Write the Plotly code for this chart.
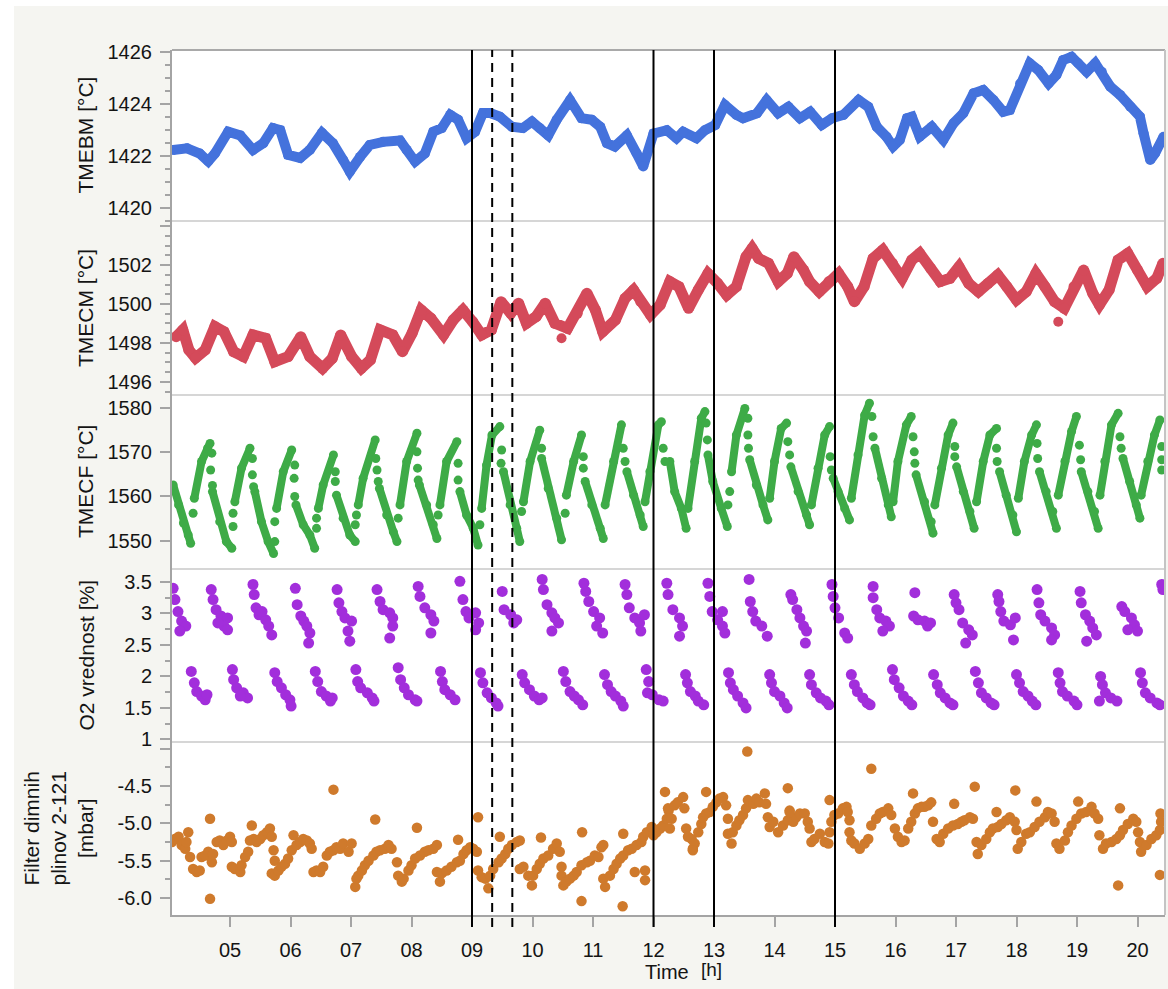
import plotly.graph_objects as go

# ---------------- data (time in decimal hours) ----------------
tmebm_t = [4.06, 4.29, 4.50, 4.64, 4.75, 4.97, 5.17, 5.38, 5.55, 5.71,
           5.83, 5.96, 6.16, 6.32, 6.52, 6.70, 6.87, 6.98, 7.15, 7.31,
           7.53, 7.81, 7.92, 8.06, 8.22, 8.36, 8.50, 8.64, 8.77, 8.91,
           9.05, 9.18, 9.30, 9.46, 9.66, 9.84, 9.99, 10.12, 10.26, 10.40,
           10.62, 10.81, 10.98, 11.12, 11.23, 11.36, 11.56, 11.72, 11.83, 12.00,
           12.22, 12.38, 12.49, 12.71, 12.85, 13.02, 13.18, 13.37, 13.48, 13.71,
           13.87, 14.06, 14.23, 14.42, 14.59, 14.78, 14.95, 15.14, 15.39, 15.55,
           15.69, 15.85, 15.96, 16.07, 16.19, 16.27, 16.40, 16.60, 16.79, 16.96,
           17.12, 17.29, 17.45, 17.62, 17.78, 17.89, 18.06, 18.22, 18.36, 18.53,
           18.66, 18.77, 18.91, 19.02, 19.16, 19.30, 19.41, 19.55, 19.71, 19.88,
           20.04, 20.10, 20.21, 20.29, 20.43]
tmebm_v = [1422.24, 1422.30, 1422.10, 1421.80, 1422.10, 1422.94, 1422.80, 1422.24, 1422.50, 1423.08,
           1423.00, 1422.05, 1421.93, 1422.24, 1422.90, 1422.50, 1421.85, 1421.40, 1421.97, 1422.43,
           1422.55, 1422.60, 1422.24, 1421.79, 1422.10, 1422.94, 1423.08, 1423.59, 1423.40, 1422.69,
           1422.94, 1423.66, 1423.66, 1423.52, 1423.13, 1423.08, 1423.33, 1423.08, 1422.80, 1423.40,
           1424.16, 1423.46, 1423.40, 1423.13, 1422.50, 1422.37, 1422.80, 1422.11, 1421.60, 1422.87,
           1423.00, 1422.69, 1422.94, 1422.69, 1423.00, 1423.20, 1423.97, 1423.59, 1423.46, 1423.65,
           1424.16, 1423.65, 1423.90, 1423.46, 1423.71, 1423.20, 1423.46, 1423.59, 1424.16, 1423.90,
           1423.13, 1422.75, 1422.37, 1422.62, 1423.46, 1423.52, 1422.75, 1423.13, 1422.62, 1423.27,
           1423.65, 1424.42, 1424.55, 1424.16, 1423.71, 1423.78, 1424.80, 1425.58, 1425.32, 1424.80,
           1425.13, 1425.70, 1425.83, 1425.58, 1425.25, 1425.58, 1425.25, 1424.68, 1424.36, 1423.90,
           1423.52, 1422.88, 1421.85, 1422.11, 1422.75]

tmecm_t = [4.11, 4.22, 4.32, 4.43, 4.59, 4.75, 4.90, 5.06, 5.22, 5.38,
           5.59, 5.74, 5.96, 6.17, 6.32, 6.53, 6.69, 6.83, 7.01, 7.17,
           7.32, 7.48, 7.69, 7.85, 8.01, 8.16, 8.32, 8.53, 8.69, 8.85,
           9.01, 9.16, 9.32, 9.48, 9.64, 9.77, 9.90, 10.06, 10.21, 10.37,
           10.58, 10.74, 10.90, 11.04, 11.16, 11.37, 11.53, 11.67, 11.79, 11.95,
           12.11, 12.27, 12.42, 12.58, 12.74, 12.90, 13.06, 13.21, 13.37, 13.53,
           13.63, 13.74, 13.90, 14.06, 14.21, 14.32, 14.48, 14.58, 14.74, 14.90,
           15.06, 15.21, 15.32, 15.48, 15.63, 15.79, 15.95, 16.11, 16.27, 16.40,
           16.58, 16.74, 16.90, 17.05, 17.21, 17.37, 17.53, 17.69, 17.84, 18.00,
           18.16, 18.32, 18.47, 18.63, 18.79, 18.95, 19.11, 19.26, 19.37, 19.53,
           19.68, 19.84, 20.00, 20.16, 20.32, 20.42]
tmecm_v = [1498.32, 1498.67, 1497.64, 1497.23, 1497.64, 1498.84, 1498.58, 1497.55, 1497.30, 1498.41,
           1498.24, 1497.04, 1497.30, 1498.32, 1497.30, 1496.70, 1497.21, 1498.41, 1497.30, 1496.70,
           1497.13, 1498.67, 1498.41, 1497.55, 1498.50, 1499.69, 1499.27, 1498.41, 1499.18, 1499.69,
           1499.09, 1498.41, 1498.67, 1500.12, 1499.52, 1500.04, 1499.01, 1499.35, 1500.04, 1499.01,
           1498.75, 1499.52, 1500.55, 1499.69, 1498.58, 1499.18, 1500.29, 1500.72, 1500.12, 1499.44,
           1499.95, 1501.15, 1500.89, 1499.78, 1500.72, 1501.57, 1501.06, 1500.46, 1500.89, 1502.43,
           1502.86, 1502.34, 1502.09, 1501.15, 1501.57, 1502.43, 1501.74, 1501.15, 1500.63, 1501.15,
           1501.57, 1500.89, 1500.12, 1500.89, 1502.34, 1502.77, 1502.09, 1501.32, 1502.26, 1502.60,
           1501.83, 1501.15, 1501.32, 1501.91, 1501.06, 1500.63, 1501.06, 1501.49, 1500.89, 1500.21,
           1500.63, 1501.57, 1500.89, 1500.12, 1499.78, 1500.89, 1501.74, 1500.55, 1499.95, 1500.72,
           1502.26, 1502.60, 1501.74, 1500.89, 1501.32, 1502.09]
tmecm_out_t = [10.48, 18.69]
tmecm_out_v = [1498.24, 1499.09]

# TMECF: continuous falling / rising runs (None separates runs)
tmecf_run_t = [4.06, 4.15, 4.23, 4.31, 4.35, None, 4.41, 4.53, 4.63, 4.67, None,
               4.71, 4.83, 4.94, 5.03, None, 5.08, 5.19, 5.33, None,
               5.41, 5.52, 5.63, 5.72, None, 5.77, 5.88, 6.02, None,
               6.09, 6.21, 6.32, 6.40, None, 6.46, 6.54, 6.71, None,
               6.76, 6.87, 6.98, 7.07, None, 7.12, 7.20, 7.40, None,
               7.47, 7.59, 7.70, 7.76, None, 7.81, 7.92, 8.09, None,
               8.13, 8.25, 8.36, 8.42, None, 8.47, 8.58, 8.75, None,
               8.80, 8.91, 9.02, 9.10, None, 9.16, 9.24, 9.33, 9.46, None,
               9.52, 9.63, 9.74, 9.79, None, 9.85, 9.96, 10.12, None,
               10.15, 10.26, 10.40, 10.48, None, 10.56, 10.68, 10.81, None,
               10.87, 10.98, 11.12, 11.17, None, 11.20, 11.34, 11.47, None,
               11.56, 11.67, 11.78, 11.83, None, 11.86, 11.94, 12.08, 12.13, None,
               12.27, 12.35, 12.46, 12.54, None, 12.57, 12.68, 12.79, 12.85, None,
               12.90, 12.98, 13.12, 13.22, None, 13.29, 13.37, 13.51, None,
               13.59, 13.70, 13.81, 13.89, None, 13.92, 14.00, 14.11, 14.20, None,
               14.27, 14.39, 14.53, 14.58, None, 14.61, 14.72, 14.83, 14.91, None,
               14.97, 15.05, 15.16, 15.24, None, 15.27, 15.38, 15.49, 15.57, None,
               15.66, 15.77, 15.88, 15.93, None, 15.96, 16.04, 16.18, 16.26, None,
               16.34, 16.48, 16.59, 16.62, None, 16.65, 16.76, 16.87, 16.95, None,
               17.01, 17.12, 17.23, 17.30, None, 17.34, 17.45, 17.56, 17.67, None,
               17.72, 17.83, 17.94, 18.00, None, 18.03, 18.13, 18.25, 18.33, None,
               18.38, 18.49, 18.60, 18.66, None, 18.69, 18.80, 18.91, 18.99, None,
               19.07, 19.18, 19.29, 19.35, None, 19.38, 19.46, 19.57, 19.68, None,
               19.76, 19.87, 19.98, 20.04, None, 20.06, 20.17, 20.28, 20.37]
tmecf_run_v = [1562.6, 1558.1, 1554.0, 1551.3, 1549.4, None, 1559.6, 1567.9, 1570.9, 1572.0, None,
               1561.1, 1554.3, 1549.8, 1548.3, None, 1558.8, 1566.4, 1570.9, None,
               1561.1, 1554.3, 1549.8, 1547.1, None, 1557.3, 1565.6, 1570.5, None,
               1558.1, 1553.6, 1551.3, 1548.3, None, 1557.3, 1562.6, 1569.4, None,
               1560.3, 1555.1, 1551.3, 1549.8, None, 1558.1, 1564.1, 1572.8, None,
               1561.8, 1555.8, 1552.0, 1549.8, None, 1558.1, 1567.9, 1574.3, None,
               1562.6, 1558.1, 1553.6, 1550.5, None, 1558.1, 1567.9, 1572.4, None,
               1561.1, 1555.8, 1552.8, 1549.0, None, 1557.3, 1567.1, 1573.9, 1575.8, None,
               1565.6, 1558.1, 1552.8, 1549.8, None, 1558.8, 1567.9, 1575.0, None,
               1568.6, 1561.8, 1555.1, 1550.2, None, 1560.3, 1567.9, 1573.9, None,
               1563.4, 1558.1, 1552.8, 1550.5, None, 1558.1, 1567.9, 1576.2, None,
               1565.6, 1560.3, 1555.8, 1553.2, None, 1558.8, 1565.6, 1576.2, 1576.9, None,
               1567.9, 1561.1, 1557.3, 1552.8, None, 1557.3, 1567.9, 1577.7, 1579.2, None,
               1569.4, 1563.4, 1557.3, 1553.2, None, 1565.6, 1573.9, 1579.9, None,
               1568.3, 1562.6, 1558.1, 1554.7, None, 1559.6, 1567.9, 1575.4, 1576.6, None,
               1566.7, 1561.1, 1555.8, 1553.6, None, 1558.1, 1566.4, 1573.9, 1575.8, None,
               1564.1, 1561.1, 1557.3, 1554.7, None, 1559.6, 1569.4, 1578.4, 1581.1, None,
               1570.9, 1564.1, 1558.1, 1555.4, None, 1558.8, 1567.9, 1576.2, 1578.1, None,
               1564.9, 1558.8, 1554.3, 1551.7, None, 1558.1, 1566.4, 1573.9, 1576.6, None,
               1566.7, 1561.1, 1556.6, 1552.8, None, 1558.8, 1567.9, 1573.9, 1575.4, None,
               1565.6, 1560.3, 1555.8, 1552.0, None, 1559.6, 1567.9, 1573.9, 1576.2, None,
               1565.6, 1561.1, 1556.6, 1552.8, None, 1560.3, 1567.9, 1574.7, 1578.1, None,
               1565.6, 1561.1, 1556.6, 1552.8, None, 1560.3, 1567.9, 1576.2, 1578.8, None,
               1568.6, 1563.4, 1558.1, 1555.1, None, 1560.3, 1567.9, 1573.9, 1577.3]
# TMECF: isolated samples at the reversals
tmecf_dot_t = [4.39, 4.70, 4.68, 4.71, 5.05, 5.05, 5.37, 5.37, 5.39, 5.74, 5.74,
               6.07, 6.06, 6.07, 6.43, 6.43, 6.74, 6.74, 7.07, 7.09, 7.41, 7.43, 7.45,
               7.78, 8.09, 8.10, 8.11, 8.44, 8.77, 8.77, 9.13, 9.49, 9.48, 9.82, 10.15,
               10.54, 10.84, 10.84, 11.50, 11.53, 12.16, 12.19, 12.87, 12.89, 13.23, 13.26,
               13.56, 13.56, 13.57, 14.22, 14.25, 14.92, 14.94, 15.61, 15.63, 16.29, 16.31,
               16.32, 16.98, 16.98, 17.67, 17.68, 18.34, 18.35, 19.04, 19.06, 19.71, 19.73,
               20.40, 20.40, 20.40]
tmecf_dot_v = [1556.2, 1569.8, 1566.0, 1562.5, 1553.2, 1556.2, 1568.6, 1564.9, 1562.2, 1549.8, 1554.3,
               1567.1, 1564.1, 1560.0, 1552.8, 1555.1, 1565.6, 1563.4, 1553.6, 1555.8, 1568.6, 1566.0, 1563.4,
               1555.1, 1570.1, 1566.4, 1563.7, 1555.8, 1567.5, 1563.7, 1553.6, 1570.5, 1567.5, 1556.6, 1570.9,
               1556.2, 1569.0, 1566.4, 1570.9, 1567.9, 1570.9, 1567.9, 1576.6, 1572.8, 1558.1, 1561.1,
               1577.7, 1573.9, 1570.9, 1572.4, 1569.4, 1569.0, 1566.0, 1578.1, 1573.5, 1573.5, 1570.1,
               1567.5, 1571.3, 1569.0, 1570.9, 1567.9, 1572.0, 1568.6, 1571.6, 1568.3, 1573.5, 1570.9,
               1571.3, 1568.3, 1566.0]

o2_t = [4.06, 4.09, 4.14, 4.20, 4.27, 4.17,
        4.69, 4.72, 4.77, 4.85, 4.96, 4.90, 4.80, 4.96,
        5.38, 5.40, 5.43, 5.48, 5.59, 5.64, 5.69, 5.53,
        6.08, 6.11, 6.17, 6.22, 6.27, 6.32, 6.30,
        6.77, 6.80, 6.85, 6.90, 7.01, 6.95, 6.98,
        7.43, 7.48, 7.53, 7.64, 7.69, 7.69, 7.64,
        8.11, 8.14, 8.22, 8.32, 8.37, 8.32,
        8.80, 8.85, 8.90, 8.95, 9.06, 9.11, 9.06,
        9.50, 9.53, 9.64, 9.74, 9.69,
        10.16, 10.18, 10.24, 10.32, 10.37, 10.43, 10.32,
        10.85, 10.88, 10.93, 11.01, 11.11, 11.06, 11.16,
        11.53, 11.56, 11.60, 11.69, 11.77, 11.85, 11.79,
        12.22, 12.24, 12.32, 12.43, 12.48, 12.43,
        12.90, 12.93, 12.97, 13.06, 13.14, 13.18, 13.14,
        13.58, 13.60, 13.64, 13.69, 13.79, 13.88,
        14.27, 14.30, 14.37, 14.42, 14.48, 14.53, 14.51,
        14.95, 14.97, 15.00, 15.06, 15.16, 15.21,
        15.63, 15.63, 15.69, 15.74, 15.84, 15.90, 15.79,
        16.32, 16.30, 16.37, 16.48, 16.53, 16.58,
        16.97, 17.00, 17.05, 17.11, 17.21, 17.27, 17.16,
        17.69, 17.71, 17.74, 17.79, 17.90, 17.98, 17.95,
        18.34, 18.37, 18.40, 18.47, 18.58, 18.63, 18.58,
        19.05, 19.07, 19.14, 19.21, 19.26, 19.32, 19.16,
        19.74, 19.79, 19.90, 19.95, 20.00, 19.84,
        20.40, 20.42,
        4.36, 4.41, 4.45, 4.53, 4.59, 4.62,
        5.04, 5.06, 5.11, 5.22, 5.29, 5.17,
        5.74, 5.78, 5.85, 5.92, 5.99, 6.01,
        6.41, 6.45, 6.51, 6.59, 6.66, 6.69,
        7.08, 7.11, 7.16, 7.27, 7.35, 7.38,
        7.78, 7.82, 7.88, 7.95, 8.06, 8.09,
        8.48, 8.51, 8.55, 8.64, 8.72,
        9.14, 9.18, 9.25, 9.32, 9.40, 9.43,
        9.83, 9.87, 9.95, 10.03, 10.11, 10.16,
        10.51, 10.55, 10.62, 10.69, 10.76, 10.83,
        11.19, 11.24, 11.30, 11.37, 11.46, 11.50,
        11.88, 11.92, 11.90, 11.98, 12.09, 12.16,
        12.53, 12.56, 12.61, 12.69, 12.74, 12.83,
        13.24, 13.27, 13.32, 13.39, 13.48, 13.53,
        13.92, 13.95, 14.00, 14.09, 14.16, 14.21,
        14.58, 14.61, 14.69, 14.76, 14.85, 14.90,
        15.27, 15.32, 15.37, 15.46, 15.53, 15.58,
        15.95, 15.98, 16.06, 16.13, 16.21, 16.27,
        16.63, 16.69, 16.74, 16.82, 16.90, 16.95,
        17.32, 17.37, 17.42, 17.50, 17.58, 17.63,
        18.00, 18.05, 18.11, 18.19, 18.26, 18.32,
        18.69, 18.72, 18.76, 18.84, 18.95, 19.00,
        19.39, 19.42, 19.47, 19.56, 19.66, 19.37,
        20.05, 20.08, 20.13, 20.21, 20.32, 20.37]
o2_v = [3.40, 3.22, 3.03, 2.88, 2.80, 2.72,
        3.38, 3.22, 3.06, 2.96, 2.93, 2.80, 2.85, 2.74,
        3.46, 3.30, 3.09, 2.98, 2.90, 2.80, 2.66, 3.03,
        3.40, 3.14, 2.96, 2.88, 2.80, 2.69, 2.53,
        3.38, 3.17, 3.03, 2.93, 2.88, 2.72, 2.56,
        3.38, 3.19, 3.06, 3.01, 2.93, 2.80, 2.61,
        3.43, 3.27, 3.09, 2.98, 2.88, 2.69,
        3.51, 3.22, 3.03, 2.93, 3.01, 2.85, 2.74,
        3.35, 3.06, 2.98, 2.90, 2.85,
        3.54, 3.38, 3.14, 3.01, 2.93, 2.85, 2.72,
        3.48, 3.35, 3.19, 3.03, 2.93, 2.80, 2.69,
        3.46, 3.30, 3.09, 2.93, 2.85, 2.98, 2.72,
        3.48, 3.30, 3.06, 2.93, 2.80, 2.64,
        3.48, 3.27, 3.03, 2.90, 2.80, 2.69, 3.03,
        3.54, 3.19, 3.03, 2.88, 2.80, 2.64,
        3.30, 3.22, 3.06, 2.93, 2.80, 2.72, 2.53,
        3.46, 3.27, 3.09, 2.93, 2.69, 2.61,
        3.43, 3.25, 3.06, 2.93, 2.88, 2.80, 2.72,
        3.33, 2.96, 2.90, 2.88, 2.80, 2.85,
        3.30, 3.17, 3.06, 2.85, 2.74, 2.66, 2.53,
        3.30, 3.19, 3.03, 2.88, 2.82, 2.93, 2.58,
        3.38, 3.17, 2.98, 2.88, 2.77, 2.66, 2.58,
        3.35, 3.17, 2.98, 2.88, 2.77, 2.66, 2.56,
        3.11, 3.03, 2.93, 2.82, 2.72, 2.74,
        3.46, 3.38,
        2.08, 1.90, 1.76, 1.69, 1.63, 1.71,
        2.11, 1.95, 1.82, 1.74, 1.66, 1.69,
        2.06, 1.92, 1.82, 1.71, 1.63, 1.53,
        2.08, 1.92, 1.76, 1.69, 1.61, 1.66,
        2.11, 1.92, 1.82, 1.74, 1.66, 1.61,
        2.14, 1.95, 1.82, 1.71, 1.63, 1.61,
        2.08, 1.92, 1.79, 1.71, 1.63,
        2.06, 1.90, 1.74, 1.66, 1.58, 1.53,
        2.03, 1.90, 1.79, 1.69, 1.63, 1.66,
        2.08, 1.92, 1.76, 1.69, 1.63, 1.55,
        2.03, 1.87, 1.76, 1.69, 1.61, 1.53,
        2.11, 1.92, 1.74, 1.71, 1.63, 1.61,
        2.03, 1.90, 1.76, 1.69, 1.61, 1.55,
        2.06, 1.90, 1.79, 1.69, 1.58, 1.50,
        2.03, 1.90, 1.76, 1.69, 1.58, 1.50,
        2.03, 1.87, 1.74, 1.66, 1.61, 1.55,
        2.03, 1.87, 1.76, 1.66, 1.58, 1.55,
        2.11, 1.95, 1.82, 1.69, 1.61, 1.55,
        2.03, 1.87, 1.74, 1.66, 1.58, 1.55,
        2.08, 1.90, 1.74, 1.66, 1.58, 1.55,
        2.03, 1.90, 1.76, 1.69, 1.61, 1.55,
        2.06, 1.90, 1.76, 1.69, 1.61, 1.55,
        2.00, 1.87, 1.74, 1.66, 1.61, 1.61,
        2.06, 1.90, 1.74, 1.66, 1.58, 1.55]

filt_t = [4.04, 4.09, 4.15, 4.20, 4.26, 4.31, 4.28, 4.34, 4.39, 4.45,
          4.50, 4.53, 4.59, 4.64, 4.70, 4.72, 4.78, 4.83, 4.89, 4.95, 5.00, 5.03,
          5.03, 5.08, 5.17, 5.19, 5.25, 5.30, 5.33, 5.39, 5.44, 5.50, 5.55, 5.61, 5.66, 5.69, 5.72, 5.74,
          5.69, 5.74, 5.80, 5.85, 5.91, 5.96, 6.02, 6.05, 6.10, 6.16, 6.21, 6.27, 6.32, 6.35,
          6.38, 6.43, 6.49, 6.54, 6.60, 6.65, 6.71, 6.76, 6.82, 6.87, 6.96, 7.01,
          7.07, 7.09, 7.12, 7.18, 7.23, 7.29, 7.37, 7.42, 7.48, 7.56, 7.62, 7.67,
          7.76, 7.78, 7.84, 7.87, 7.95, 8.00, 8.06, 8.14, 8.22, 8.28, 8.36, 8.42,
          8.42, 8.47, 8.50, 8.58, 8.66, 8.75, 8.80, 8.86, 8.91, 8.97, 9.02, 9.08,
          9.10, 9.16, 9.22, 9.27, 9.30, 9.35, 9.44, 9.49, 9.55, 9.60, 9.66, 9.74, 9.79,
          9.79, 9.85, 9.93, 9.99, 10.01, 10.07, 10.12, 10.18, 10.26, 10.34, 10.40, 10.45, 10.48,
          10.48, 10.51, 10.56, 10.62, 10.68, 10.73, 10.81, 10.90, 10.95, 11.03, 11.09, 11.14, 11.17,
          11.17, 11.20, 11.28, 11.34, 11.39, 11.45, 11.50, 11.58, 11.64, 11.72,
          11.80, 11.83, 11.89, 11.97, 12.00, 12.05, 12.11, 12.16, 12.22, 12.25,
          12.24, 12.30, 12.27, 12.35, 12.40, 12.49, 12.51, 12.54, 12.57, 12.63,
          12.65, 12.68, 12.74, 12.79, 12.82, 12.87, 12.93, 12.98, 13.04, 13.09, 13.15, 13.20, 13.23,
          13.23, 13.29, 13.31, 13.37, 13.42, 13.48, 13.53, 13.56, 13.65, 13.70,
          13.75, 13.84, 13.86, 13.89, 13.92, 13.98, 14.06, 14.14, 14.22, 14.25,
          14.31, 14.36, 14.42, 14.50, 14.55, 14.58, 14.61, 14.66, 14.75, 14.83,
          14.89, 14.91, 14.94, 14.99, 15.05, 15.13, 15.19, 15.21, 15.24,
          15.24, 15.27, 15.32, 15.41, 15.49, 15.55, 15.60, 15.68, 15.74, 15.79, 15.88, 15.93,
          15.99, 16.04, 16.10, 16.15, 16.21, 16.26, 16.32, 16.37, 16.43, 16.48, 16.54, 16.59,
          16.62, 16.68, 16.73, 16.79, 16.87, 16.95, 17.03, 17.09, 17.14, 17.23, 17.28,
          17.34, 17.36, 17.42, 17.50, 17.56, 17.61, 17.69, 17.75, 17.83, 17.89, 17.97, 18.00,
          18.02, 18.08, 18.16, 18.22, 18.30, 18.38, 18.47, 18.52, 18.58, 18.63,
          18.66, 18.71, 18.80, 18.85, 18.91, 18.99, 19.07, 19.15, 19.24, 19.29, 19.35,
          19.37, 19.43, 19.48, 19.57, 19.65, 19.71, 19.76, 19.84, 19.93, 19.98, 20.01,
          20.04, 20.06, 20.15, 20.23, 20.31, 20.37, 20.39, 20.38]
filt_v = [-5.25, -5.21, -5.18, -5.29, -5.34, -5.12, -5.25, -5.45, -5.61, -5.65,
          -5.63, -5.45, -5.43, -5.38, -5.52, -5.41, -5.25, -5.23, -5.29, -5.23, -5.18, -5.25,
          -5.58, -5.61, -5.65, -5.56, -5.45, -5.38, -5.23, -5.21, -5.25, -5.21, -5.16, -5.12, -5.07, -5.18, -5.36, -5.50,
          -5.67, -5.70, -5.63, -5.58, -5.54, -5.47, -5.36, -5.16, -5.29, -5.25, -5.21, -5.23, -5.27, -5.34,
          -5.65, -5.63, -5.65, -5.58, -5.43, -5.38, -5.36, -5.32, -5.34, -5.27, -5.38, -5.27,
          -5.85, -5.74, -5.70, -5.63, -5.56, -5.50, -5.43, -5.38, -5.36, -5.34, -5.29, -5.34,
          -5.52, -5.70, -5.78, -5.74, -5.63, -5.56, -5.47, -5.43, -5.38, -5.36, -5.34, -5.29,
          -5.65, -5.78, -5.67, -5.63, -5.58, -5.52, -5.50, -5.41, -5.36, -5.32, -5.34, -5.38,
          -5.63, -5.72, -5.74, -5.87, -5.70, -5.61, -5.52, -5.47, -5.41, -5.34, -5.29, -5.25, -5.23,
          -5.61, -5.58, -5.70, -5.83, -5.70, -5.61, -5.54, -5.47, -5.43, -5.34, -5.27, -5.38, -5.58,
          -5.70, -5.83, -5.78, -5.74, -5.70, -5.65, -5.56, -5.52, -5.50, -5.43, -5.45, -5.32, -5.29,
          -5.74, -5.85, -5.70, -5.61, -5.54, -5.47, -5.43, -5.36, -5.34, -5.29,
          -5.25, -5.18, -5.12, -5.05, -5.16, -5.12, -5.07, -5.03, -4.94, -4.83,
          -4.80, -4.94, -5.07, -4.76, -4.72, -4.65, -4.80, -5.07, -5.18, -5.21,
          -5.34, -5.27, -5.12, -5.01, -4.92, -4.87, -4.85, -4.78, -4.72, -4.67, -4.65, -4.76, -4.94,
          -5.14, -5.27, -5.12, -5.03, -4.96, -4.89, -4.80, -4.69, -4.74, -4.67,
          -4.72, -4.60, -4.74, -4.92, -5.05, -4.98, -5.12, -5.03, -4.96, -4.83,
          -4.98, -4.92, -4.87, -4.87, -4.98, -5.07, -5.25, -5.21, -5.14, -5.25,
          -5.27, -5.12, -4.98, -4.89, -4.87, -4.80, -4.78, -4.85, -4.96,
          -5.12, -5.23, -5.27, -5.34, -5.27, -5.21, -5.03, -4.94, -4.87, -4.85, -4.80, -4.89,
          -5.07, -5.18, -5.25, -5.23, -5.07, -4.98, -4.87, -4.80, -4.78, -4.78, -4.76, -4.72,
          -4.98, -5.21, -5.25, -5.14, -5.07, -5.03, -5.01, -4.98, -4.96, -4.92, -4.94,
          -5.25, -5.41, -5.29, -5.21, -5.12, -5.07, -5.05, -5.01, -4.96, -4.92, -4.98, -5.09,
          -5.34, -5.25, -5.14, -5.12, -5.05, -4.98, -4.92, -4.85, -4.87, -4.98,
          -5.27, -5.34, -5.23, -5.12, -5.03, -4.94, -4.87, -4.85, -4.78, -4.87, -4.94,
          -5.16, -5.34, -5.27, -5.25, -5.21, -5.16, -5.09, -5.01, -4.94, -4.98, -5.12,
          -5.25, -5.38, -5.29, -5.21, -5.16, -5.09, -4.98, -4.87]
filt_out_t = [4.67, 4.67, 5.36, 6.71, 7.40, 8.09, 8.77, 9.10, 9.46, 10.14,
              10.82, 10.81, 11.50, 11.49, 11.69, 11.86, 11.86, 12.19, 13.55, 15.60,
              16.29, 16.97, 17.31, 17.67, 17.98, 18.33, 19.02, 19.71, 19.68, 20.37,
              12.87, 14.22, 14.25, 14.91, 12.65]
filt_out_v = [-4.94, -6.01, -5.03, -4.55, -4.95, -5.06, -5.22, -4.92, -5.18, -5.19,
              -5.12, -6.04, -5.14, -6.11, -5.65, -5.63, -5.76, -4.58, -4.04, -4.27,
              -4.60, -4.74, -4.51, -4.85, -4.56, -4.71, -4.71, -4.80, -5.83, -5.69,
              -4.58, -4.53, -4.85, -4.69, -5.36]

hour_ticks = list(range(5, 21))
hour_labels = ["%02d" % h for h in hour_ticks]
ref_solid = [9, 12, 13, 15]
ref_dashed = [9 + 20 / 60, 9 + 40 / 60]

# ---------------- styling ----------------
FONT = "Liberation Sans, Arial, Helvetica, sans-serif"
TXT = "#141414"
AXC = "#a4a4a4"
BLUE, RED, GREEN, PURPLE, ORANGE = "#4472DC", "#D44A5A", "#3EAB47", "#A22EDB", "#CF7A2C"

W, H = 1168, 989
ML, MR, MT, MB = 172, 3, 50, 74
PW, PH = W - ML - MR, H - MT - MB


def px_x(p):
    return (p - ML) / PW


def px_y(p):
    return (H - MB - p) / PH


# panel edges (pixel rows) from bottom panel to top panel
edges = [915, 742, 569, 395, 221, 50]
dom = [[round(px_y(edges[i]), 4), round(px_y(edges[i + 1]), 4)] for i in range(5)]

fig = go.Figure()

fig.add_trace(go.Scatter(x=tmebm_t, y=tmebm_v, mode="lines+markers", yaxis="y5",
                         line=dict(color=BLUE, width=10), marker=dict(color=BLUE, size=10),
                         showlegend=False))
fig.add_trace(go.Scatter(x=tmecm_t, y=tmecm_v, mode="lines+markers", yaxis="y4",
                         line=dict(color=RED, width=11), marker=dict(color=RED, size=11),
                         showlegend=False))
fig.add_trace(go.Scatter(x=tmecm_out_t, y=tmecm_out_v, mode="markers", yaxis="y4",
                         marker=dict(color=RED, size=10), showlegend=False))
fig.add_trace(go.Scatter(x=tmecf_run_t, y=tmecf_run_v, mode="lines+markers", yaxis="y3",
                         line=dict(color=GREEN, width=8), marker=dict(color=GREEN, size=9),
                         connectgaps=False, showlegend=False))
fig.add_trace(go.Scatter(x=tmecf_dot_t, y=tmecf_dot_v, mode="markers", yaxis="y3",
                         marker=dict(color=GREEN, size=9), showlegend=False))
fig.add_trace(go.Scatter(x=o2_t, y=o2_v, mode="markers", yaxis="y2",
                         marker=dict(color=PURPLE, size=11), showlegend=False))
fig.add_trace(go.Scatter(x=filt_t, y=filt_v, mode="markers", yaxis="y",
                         marker=dict(color=ORANGE, size=10.5), showlegend=False))
fig.add_trace(go.Scatter(x=filt_out_t, y=filt_out_v, mode="markers", yaxis="y",
                         marker=dict(color=ORANGE, size=10.5), showlegend=False))


def yaxis(domain, rng, vals, texts, minor_dtick=None):
    ax = dict(domain=domain, range=rng, anchor="x", showline=True, linecolor=AXC, linewidth=2,
              ticks="outside", ticklen=10, tickwidth=1.5, tickcolor=AXC,
              tickmode="array", tickvals=vals, ticktext=texts,
              tickfont=dict(family=FONT, size=20, color=TXT),
              showgrid=False, zeroline=False, ticklabelstandoff=4)
    if minor_dtick:
        ax["minor"] = dict(ticks="outside", ticklen=5, tickwidth=1.5, tickcolor=AXC,
                           dtick=minor_dtick, showgrid=False)
    return ax


x0 = 5 + (ML - 230) / 60.5
x1 = 5 + (ML + PW - 230) / 60.5

fig.update_layout(
    width=W, height=H,
    margin=dict(l=ML, r=MR, t=MT, b=MB, pad=0),
    paper_bgcolor="#f5f5f1", plot_bgcolor="white",
    font=dict(family=FONT, size=20, color=TXT),
    xaxis=dict(domain=[0, 1], range=[x0, x1], anchor="y", showline=True, linecolor=AXC,
               linewidth=2, ticks="outside", ticklen=10, tickwidth=1.5, tickcolor=AXC,
               tickmode="array", tickvals=hour_ticks, ticktext=hour_labels,
               tickfont=dict(family=FONT, size=20, color=TXT), showgrid=False,
               zeroline=False, ticklabelstandoff=6),
    yaxis=yaxis(dom[0], [-6.226, -3.913], [-6, -5.5, -5, -4.5, -4],
                ["-6.0", "-5.5", "-5.0", "-4.5", ""], 0.25),
    yaxis2=yaxis(dom[1], [0.96, 3.706], [1, 1.5, 2, 2.5, 3, 3.5],
                 ["1", "1.5", "2", "2.5", "3", "3.5"], 0.25),
    yaxis3=yaxis(dom[2], [1543.6, 1582.96], [1550, 1560, 1570, 1580],
                 ["1550", "1560", "1570", "1580"]),
    yaxis4=yaxis(dom[3], [1495.33, 1504.26], [1496, 1498, 1500, 1502, 1504],
                 ["1496", "1498", "1500", "1502", ""], 0.5),
    yaxis5=yaxis(dom[4], [1419.50, 1426.09], [1420, 1422, 1424, 1426],
                 ["1420", "1422", "1424", "1426"], 0.5),
)

shapes = []
# panel separators and frame
for d in dom[1:]:
    shapes.append(dict(type="line", xref="paper", yref="paper", x0=0, x1=1, y0=d[0], y1=d[0],
                       line=dict(color="#d6d6d6", width=2)))
shapes.append(dict(type="line", xref="paper", yref="paper", x0=0, x1=1, y0=1, y1=1,
                   line=dict(color="#a9a9a9", width=2)))
shapes.append(dict(type="line", xref="paper", yref="paper", x0=1, x1=1, y0=0, y1=1,
                   line=dict(color="#c4c4c4", width=2)))
# reference times
y_low = px_y(927)
for t in ref_solid:
    shapes.append(dict(type="line", xref="x", yref="paper", x0=t, x1=t, y0=y_low, y1=1,
                       line=dict(color="black", width=2)))
for t in ref_dashed:
    shapes.append(dict(type="line", xref="x", yref="paper", x0=t, x1=t, y0=y_low, y1=1,
                       line=dict(color="black", width=2, dash="9px,6px")))
# white page border around the grey frame
shapes.append(dict(type="rect", xref="paper", yref="paper", x0=px_x(-5), x1=px_x(14),
                   y0=px_y(995), y1=px_y(-5), fillcolor="white", line=dict(width=0)))
shapes.append(dict(type="rect", xref="paper", yref="paper", x0=px_x(-5), x1=px_x(1175),
                   y0=px_y(6), y1=px_y(-5), fillcolor="white", line=dict(width=0)))
fig.update_layout(shapes=shapes)

ann = []
titles = [("TMEBM [°C]", 4), ("TMECM [°C]", 3), ("TMECF [°C]", 2), ("O2 vrednost [%]", 1)]
for text, i in titles:
    ann.append(dict(text=text, xref="paper", yref="paper", x=px_x(86), y=sum(dom[i]) / 2,
                    textangle=-90, showarrow=False, xanchor="center", yanchor="middle",
                    font=dict(family=FONT, size=21, color=TXT)))
ann.append(dict(text="Filter dimnih<br>plinov 2-121<br>[mbar]", xref="paper", yref="paper",
                x=px_x(58), y=sum(dom[0]) / 2, textangle=-90, showarrow=False,
                xanchor="center", yanchor="middle", align="center",
                font=dict(family=FONT, size=21, color=TXT)))
ann.append(dict(text="Time", xref="paper", yref="paper", x=px_x(667), y=px_y(972),
                showarrow=False, xanchor="center", yanchor="middle", borderpad=0,
                font=dict(family=FONT, size=20, color=TXT)))
ann.append(dict(text="[h]", xref="paper", yref="paper", x=px_x(711), y=px_y(969),
                showarrow=False, xanchor="center", yanchor="middle", borderpad=0,
                font=dict(family=FONT, size=19, color=TXT)))
fig.update_layout(annotations=ann)

fig.write_html("out.html")
